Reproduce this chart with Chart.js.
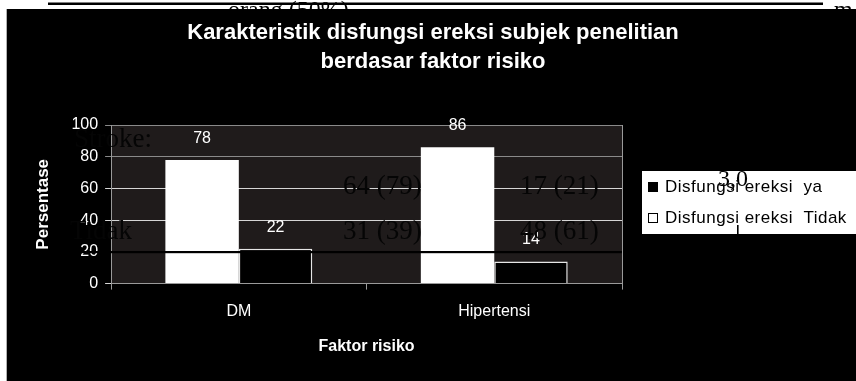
<!DOCTYPE html>
<html><head><meta charset="utf-8">
<script src="https://cdn.jsdelivr.net/npm/chart.js@4/dist/chart.umd.min.js"></script>
<style>html,body{margin:0;padding:0;background:#fff;overflow:hidden}#wrap{width:856px;height:381px;position:relative}</style>
</head><body><div id="wrap"><canvas id="c" width="856" height="381"></canvas></div>
<script>
// ---- data ----
const titleLines = ['Karakteristik disfungsi ereksi subjek penelitian', 'berdasar faktor risiko'];
const categories = ['DM', 'Hipertensi'];
const seriesNames = ['Disfungsi ereksi  ya', 'Disfungsi ereksi  Tidak'];
const seriesYa = [78, 86];
const seriesTidak = [22, 14];
const yTicks = [0, 20, 40, 60, 80, 100];
const yTitle = 'Persentase';
const xTitle = 'Faktor risiko';
// residue of the scanned document showing through
const residueTexts = ['Stroke:', 'Tidak', '64 (79)', '31 (39)', '17 (21)', '48 (61)', '3,0'];
const residueTop = ['orang (50%)', 'm'];

// ---- styling / layout ----
const SANS = "'Liberation Sans', Arial, sans-serif";
const SERIF = "'Liberation Serif', 'Times New Roman', serif";
const residuePos = [[152,140,'right'],[132,232,'right'],[343,187,'left'],[343,232,'left'],[520,187,'left'],[520,232,'left'],[718,180,'left']];
const residueTopPos = [[228,17],[834,17]];

const bgPlugin = {
  id: 'bg',
  beforeDraw(chart) {
    const c = chart.ctx, a = chart.chartArea;
    c.save();
    c.fillStyle = '#ffffff'; c.fillRect(0, 0, chart.width, chart.height);
    c.fillStyle = '#000'; c.fillRect(48, 2.5, 775, 2.5);
    c.font = '24px ' + SERIF; c.textBaseline = 'alphabetic'; c.textAlign = 'left';
    residueTop.forEach((t, i) => c.fillText(t, residueTopPos[i][0], residueTopPos[i][1]));
    c.fillStyle = '#b0b0b0'; c.fillRect(6, 9, 1, chart.height - 9);
    c.fillStyle = '#000000'; c.fillRect(7, 9, chart.width - 7, chart.height - 9);
    c.fillStyle = '#1f1b1b'; c.fillRect(a.left, a.top, a.right - a.left, a.bottom - a.top);
    c.restore();
  },
  afterDatasetsDraw(chart) {
    const c = chart.ctx;
    c.save();
    // value labels
    c.font = '16px ' + SANS; c.fillStyle = '#ffffff'; c.textAlign = 'center'; c.textBaseline = 'middle';
    chart.data.datasets.forEach((ds, di) => {
      chart.getDatasetMeta(di).data.forEach((bar, i) => {
        c.fillText(String(ds.data[i]), bar.x, bar.y - 21.5);
      });
    });
    // scanned table line residue
    c.fillStyle = '#000'; c.fillRect(60, 251, 562, 2.2);
    // scanned text residue
    c.font = '27px ' + SERIF; c.fillStyle = '#050505'; c.textBaseline = 'middle';
    residueTexts.forEach((t, i) => {
      if (i === 6) return;
      c.textAlign = residuePos[i][2];
      c.fillText(t, residuePos[i][0], residuePos[i][1]);
    });
    c.restore();
  },
  afterDraw(chart) {
    const c = chart.ctx;
    c.save();
    // legend
    c.fillStyle = '#ffffff'; c.fillRect(642, 171, chart.width - 642, 63);
    const ys = [187, 218];
    c.font = '17px ' + SANS; c.textAlign = 'left'; c.textBaseline = 'middle';
    try { c.letterSpacing = '0.5px'; } catch (e) {}
    seriesNames.forEach((n, i) => {
      if (i === 0) { c.fillStyle = '#000'; c.fillRect(648, ys[i] - 5, 10, 10); }
      else { c.strokeStyle = '#000'; c.lineWidth = 1; c.strokeRect(648.5, ys[i] - 4.5, 9, 9); }
      c.fillStyle = '#000';
      c.fillText(n, 665, ys[i]);
    });
    try { c.letterSpacing = '0px'; } catch (e) {}
    c.font = '24px ' + SERIF; c.fillStyle = '#000'; c.textBaseline = 'middle';
    c.fillText(residueTexts[6], residuePos[6][0], residuePos[6][1]);
    c.fillRect(737, 225, 1.6, 13);
    c.restore();
  }
};

new Chart(document.getElementById('c'), {
  type: 'bar',
  data: {
    labels: categories,
    datasets: [
      { label: seriesNames[0], data: seriesYa, backgroundColor: '#ffffff', borderWidth: 0,
        categoryPercentage: 0.575, barPercentage: 1 },
      { label: seriesNames[1], data: seriesTidak, backgroundColor: '#000000', borderColor: '#e6e6e6',
        borderWidth: 1.5, categoryPercentage: 0.575, barPercentage: 1 }
    ]
  },
  options: {
    responsive: false, animation: false, devicePixelRatio: 1,
    layout: { padding: { left: 10, right: 0, top: 0, bottom: 25 } },
    plugins: {
      legend: { display: false }, tooltip: { enabled: false },
      title: { display: true, text: titleLines, color: '#ffffff',
        font: { family: SANS, size: 22, weight: 'bold', lineHeight: 29 / 22 },
        padding: { top: 18, bottom: 49 } }
    },
    scales: {
      x: {
        grid: { display: true, drawOnChartArea: false, drawTicks: true, tickLength: 6, color: '#9a9a9a', offset: true },
        border: { color: '#9a9a9a' },
        ticks: { color: '#ffffff', font: { family: SANS, size: 16 }, padding: 12 },
        title: { display: true, text: xTitle, color: '#ffffff', font: { family: SANS, size: 16, weight: 'bold' }, padding: { top: 4, bottom: 0 } }
      },
      y: {
        min: 0, max: 100,
        afterBuildTicks: s => { s.ticks = yTicks.map(v => ({ value: v })); },
        ticks: { color: '#ffffff', font: { family: SANS, size: 16 }, padding: 7 },
        grid: { color: ctx => (ctx.tick && (ctx.tick.value === 100 || ctx.tick.value === 80)) ? '#8a8a8a' : '#d6d6d6', tickLength: 6 },
        border: { color: '#9a9a9a' },
        title: { display: true, text: yTitle, color: '#ffffff', font: { family: SANS, size: 17, weight: 'bold' }, padding: { top: 23, bottom: 11 } }
      },
      y2: {
        position: 'right', display: true,
        grid: { display: false }, ticks: { display: false },
        border: { display: true, color: '#9a9a9a' },
        afterFit: s => { s.width = 234; }
      }
    }
  },
  plugins: [bgPlugin]
});
</script></body></html>
